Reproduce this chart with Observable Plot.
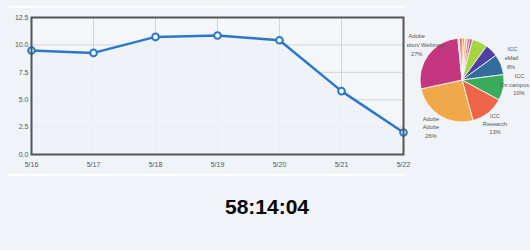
<!DOCTYPE html>
<html><head><meta charset="utf-8">
<script src="https://cdn.jsdelivr.net/npm/d3@7"></script>
<script src="https://cdn.jsdelivr.net/npm/@observablehq/plot@0.6"></script>
<style>
html,body{margin:0;padding:0;background:#f0f3f7;}
#wrap{position:relative;width:530px;height:250px;overflow:hidden;background:#f0f3f7;font-family:"Liberation Sans",Arial,sans-serif;}
.sep{position:absolute;left:8px;width:397px;height:2px;background:#ffffff;}
#line{position:absolute;left:0;top:0;}
#pie{position:absolute;left:407px;top:0;width:123px;height:180px;overflow:hidden;}
#timer{position:absolute;left:2px;width:530px;top:195px;line-height:21px;text-align:center;font:bold 21px "Liberation Sans",Arial,sans-serif;color:#000;}
</style></head>
<body>
<div id="wrap">
  <div class="sep" style="top:6px"></div>
  <div class="sep" style="top:174px"></div>
  <div id="line"></div>
  <div id="pie"></div>
  <div id="timer"></div>
</div>
<script>
// ---- line chart data ----
const dates = ["5/16","5/17","5/18","5/19","5/20","5/21","5/22"];
const values = [9.49, 9.27, 10.73, 10.86, 10.43, 5.78, 2.0];
const yTicks = [0, 2.5, 5, 7.5, 10, 12.5];

// ---- pie data (clockwise from top) ----
const sliceNames = ["s1","s2","s3","s4","s5","s6","ICC eMail","ICC On campus","ICC Research","Adobe Adobe","Adobe Presentation/ Webinars","s7","s8"];
const sliceValues = [1.0, 1.1, 1.0, 1.0, 6.0, 5.0, 8, 10, 13, 26, 27, 0.6, 1.0];
const sliceColors = ["#f3953c","#f8b85c","#e2589e","#c93a86","#a6d63f","#5040a6","#316c9d","#3aaa5c","#ef6448","#f0a84b","#c4367f","#a9bdd0","#ee5a3f"];

// ---- pie label text ----
const pieLabelLines = ["Adobe","ation/ Webinars","27%","ICC","eMail","8%","ICC","On campus","10%","ICC","Research","13%","Adobe","Adobe","26%"];

// ---- timer ----
const timerText = "58:14:04";

// layout (positions only)
const labelPos = [[9.7,36],[18.3,45.3],[9.7,53.7],[105.5,49.3],[104.5,58],[104,66.7],[112.5,76],[107.5,84.7],[112,93.3],[88,115.7],[88,123.7],[88,132],[24,118.7],[24,127.3],[24,136]];

const data = dates.map((d,i)=>({date:d, value:values[i]}));
const blue = "#2a78c8";

const chart = Plot.plot({
  width: 420, height: 180,
  marginLeft: 31, marginRight: 17, marginTop: 17, marginBottom: 26,
  style: {background: "transparent", fontFamily: "Liberation Sans, Arial, sans-serif", fontSize: "7px", color: "#555", overflow: "visible"},
  x: {type: "point", domain: dates, padding: 0, label: null},
  y: {domain: [0, 12.5], label: null},
  marks: [
    Plot.frame({fill: "#f4f6f9", stroke: null}),
    Plot.gridX(dates, {stroke: "#d4d4d4", strokeOpacity: 1}),
    Plot.gridY(yTicks, {stroke: "#d4d4d4", strokeOpacity: 1}),
    Plot.areaY(data, {x: "date", y: "value", fill: "#edf1f6", fillOpacity: 0.85}),
    Plot.lineY(data, {x: "date", y: "value", stroke: blue, strokeWidth: 2.5}),
    Plot.dot(data, {x: "date", y: "value", r: 3.3, fill: "white", stroke: blue, strokeWidth: 2}),
    Plot.frame({stroke: "#555", strokeWidth: 2}),
    Plot.axisX(dates, {tickSize: 0, tickPadding: 8, fill: "#555"}),
    Plot.axisY(yTicks, {tickSize: 0, tickPadding: 3, fill: "#555", tickFormat: d => d.toFixed(1)})
  ]
});
document.getElementById("line").appendChild(chart);

// ---- pie ----
const svg = d3.create("svg").attr("width", 123).attr("height", 180)
  .style("font-family", "Liberation Sans, Arial, sans-serif");
const cx = 55, cy = 80, R = 42;
const arcs = d3.pie().sort(null).value(d => d)(sliceValues);
const arcGen = d3.arc().innerRadius(0).outerRadius(R);
svg.append("g").attr("transform", `translate(${cx},${cy})`)
  .selectAll("path").data(arcs).join("path")
  .attr("d", arcGen)
  .attr("fill", (d,i) => sliceColors[i])
  .attr("stroke", "#ffffff").attr("stroke-width", 0.8);
svg.append("g").selectAll("text").data(pieLabelLines).join("text")
  .attr("x", (d,i) => labelPos[i][0])
  .attr("y", (d,i) => labelPos[i][1])
  .attr("dy", "0.35em")
  .attr("text-anchor", "middle")
  .attr("font-size", 5.7)
  .attr("fill", "#555")
  .text(d => d);
document.getElementById("pie").appendChild(svg.node());

document.getElementById("timer").textContent = timerText;
</script>
</body></html>
